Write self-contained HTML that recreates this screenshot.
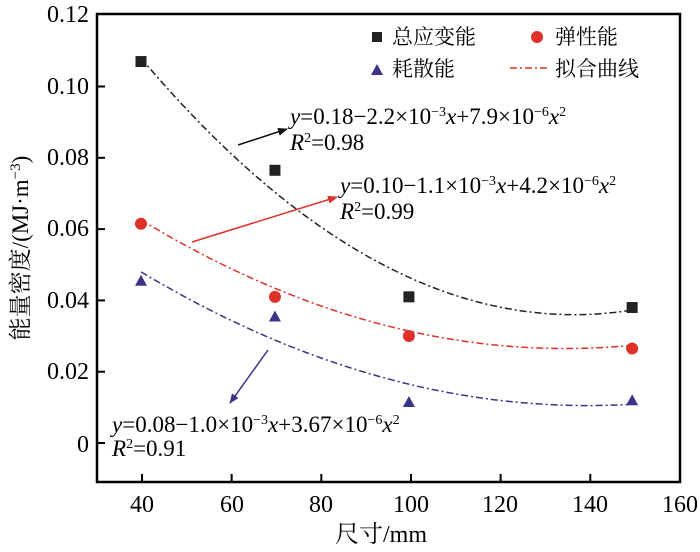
<!DOCTYPE html>
<html><head><meta charset="utf-8"><style>
body{margin:0;background:#fff}
svg text{font-family:"Liberation Serif","Noto Serif CJK SC",serif}
</style></head><body>
<svg id="s" width="700" height="547" xmlns="http://www.w3.org/2000/svg">
<defs>
<marker id="ak" markerWidth="10" markerHeight="8" refX="9" refY="4" orient="auto" markerUnits="userSpaceOnUse"><path d="M0,0L10,4L0,8z" fill="#111"/></marker>
<marker id="ar" markerWidth="10" markerHeight="8" refX="9" refY="4" orient="auto" markerUnits="userSpaceOnUse"><path d="M0,0L10,4L0,8z" fill="#e0302a"/></marker>
<marker id="ab" markerWidth="10" markerHeight="8" refX="9" refY="4" orient="auto" markerUnits="userSpaceOnUse"><path d="M0,0L10,4L0,8z" fill="#3a3488"/></marker>
</defs>
<rect x="97" y="14" width="583" height="468" fill="none" stroke="#000" stroke-width="2.5"/>
<g id="g"></g>
<g font-size="24" text-anchor="end">
<text x="89" y="22">0.12</text><text x="89" y="94">0.10</text><text x="89" y="165">0.08</text>
<text x="89" y="236">0.06</text><text x="89" y="308">0.04</text><text x="89" y="379">0.02</text><text x="89" y="452">0</text>
</g>
<g font-size="24" text-anchor="middle">
<text x="142" y="512">40</text><text x="232" y="512">60</text><text x="321" y="512">80</text><text x="411" y="512">100</text>
<text x="500" y="512">120</text><text x="590" y="512">140</text><text x="680" y="512">160</text>
<text x="381" y="542" font-size="24">尺寸/mm</text>
</g>
<text transform="translate(28,248) rotate(-90)" font-size="23" text-anchor="middle">能量密度/(MJ·m<tspan dy="-8" font-size="15">−3</tspan><tspan dy="8">)</tspan></text>
<!-- legend -->
<rect x="372" y="32" width="10" height="10" fill="#222"/><text x="392" y="44" font-size="21">总应变能</text>
<circle cx="537" cy="37" r="6" fill="#e0302a"/><text x="555" y="44" font-size="21">弹性能</text>
<path d="M371,75L383,75L377,64z" fill="#3a3488"/><text x="392" y="76" font-size="21">耗散能</text>
<line x1="510" y1="68" x2="548" y2="68" stroke="#e0302a" stroke-width="1.5" stroke-dasharray="7,3,2,3"/><text x="555" y="76" font-size="21">拟合曲线</text>
<!-- annotations -->
<g font-size="23">
<text x="290" y="124"><tspan font-style="italic">y</tspan>=0.18−2.2×10<tspan dy="-8" font-size="14">−3</tspan><tspan dy="8" font-style="italic">x</tspan>+7.9×10<tspan dy="-8" font-size="14">−6</tspan><tspan dy="8" font-style="italic">x</tspan><tspan dy="-8" font-size="14">2</tspan></text>
<text x="290" y="150"><tspan font-style="italic">R</tspan><tspan dy="-8" font-size="14">2</tspan><tspan dy="8">=0.98</tspan></text>
<text x="340" y="193"><tspan font-style="italic">y</tspan>=0.10−1.1×10<tspan dy="-8" font-size="14">−3</tspan><tspan dy="8" font-style="italic">x</tspan>+4.2×10<tspan dy="-8" font-size="14">−6</tspan><tspan dy="8" font-style="italic">x</tspan><tspan dy="-8" font-size="14">2</tspan></text>
<text x="340" y="219"><tspan font-style="italic">R</tspan><tspan dy="-8" font-size="14">2</tspan><tspan dy="8">=0.99</tspan></text>
<text x="112" y="432"><tspan font-style="italic">y</tspan>=0.08−1.0×10<tspan dy="-8" font-size="14">−3</tspan><tspan dy="8" font-style="italic">x</tspan>+3.67×10<tspan dy="-8" font-size="14">−6</tspan><tspan dy="8" font-style="italic">x</tspan><tspan dy="-8" font-size="14">2</tspan></text>
<text x="112" y="456"><tspan font-style="italic">R</tspan><tspan dy="-8" font-size="14">2</tspan><tspan dy="8">=0.91</tspan></text>
</g>
<line x1="238" y1="145" x2="287" y2="129" stroke="#111" stroke-width="1.5" marker-end="url(#ak)"/>
<line x1="192" y1="242" x2="337" y2="197" stroke="#e0302a" stroke-width="1.5" marker-end="url(#ar)"/>
<line x1="268" y1="350" x2="230" y2="403" stroke="#3a3488" stroke-width="1.5" marker-end="url(#ab)"/>
</svg>
<script>
var X=x=>141+(x-40)*4.465, Y=y=>443-y*3565;
var T=x=>142+(x-40)*4.483;
var g=document.getElementById('g'),h='';
[40,60,80,100,120,140].forEach(x=>{h+=`<line x1="${T(x)}" y1="482" x2="${T(x)}" y2="474" stroke="#000" stroke-width="2"/>`});
[0,0.02,0.04,0.06,0.08,0.1].forEach(y=>{h+=`<line x1="97" y1="${Y(y)}" x2="105" y2="${Y(y)}" stroke="#000" stroke-width="2"/>`});
function curve(a,v,m,c){var d='';for(var x=40;x<=150;x+=1){d+=(x==40?'M':'L')+X(x).toFixed(1)+','+Y(m+a*(x-v)*(x-v)).toFixed(1);}
h+=`<path d="${d}" fill="none" stroke="${c}" stroke-width="1.5" stroke-dasharray="7,3,2,3"/>`;}
curve(7.65e-6,137,0.036,'#222');curve(4.0e-6,135,0.0265,'#e0302a');curve(3.75e-6,140,0.0105,'#3a3488');
[[40,0.107],[70,0.0765],[100,0.041],[150,0.038]].forEach(p=>{h+=`<rect x="${X(p[0])-5.5}" y="${Y(p[1])-5.5}" width="11" height="11" fill="#222"/>`});
[[40,0.0615],[70,0.041],[100,0.030],[150,0.0265]].forEach(p=>{h+=`<circle cx="${X(p[0])}" cy="${Y(p[1])}" r="6" fill="#e0302a"/>`});
[[40,0.0455],[70,0.0355],[100,0.0115],[150,0.012]].forEach(p=>{var x=X(p[0]),y=Y(p[1]);h+=`<path d="M${x-6},${y+5}L${x+6},${y+5}L${x},${y-6}z" fill="#3a3488"/>`});
g.innerHTML=h;
</script>
</body></html>
